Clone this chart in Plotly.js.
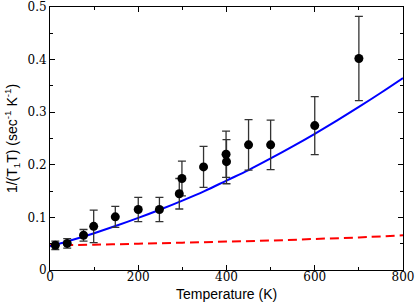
<!DOCTYPE html>
<html><head><meta charset="utf-8">
<script src="https://cdn.plot.ly/plotly-3.0.1.min.js"></script>
<style>html,body{margin:0;padding:0;background:#fff}#c{width:415px;height:303px}</style>
</head><body><div id="c"></div>
<script>
// measured data
const temps = [12, 39, 76, 99, 148, 200, 248, 293, 299, 348, 399, 400, 450, 500, 600, 700];
const rates = [0.047, 0.0505, 0.066, 0.083, 0.101, 0.115, 0.115, 0.145, 0.174, 0.196, 0.220, 0.206, 0.238, 0.238, 0.2745, 0.402];
const errs  = [0.008, 0.009, 0.011, 0.031, 0.020, 0.023, 0.023, 0.029, 0.033, 0.039, 0.044, 0.042, 0.048, 0.047, 0.055, 0.080];
// blue fit curve
const fitT = [0, 50, 100, 150, 200, 250, 300, 350, 400, 450, 500, 550, 600, 650, 700, 750, 800];
const fitV = [0.045, 0.057, 0.070, 0.084, 0.099, 0.115, 0.132, 0.150, 0.170, 0.190, 0.212, 0.235, 0.259, 0.284, 0.310, 0.337, 0.365];
// red dashed curve
const redT = [0, 100, 200, 300, 400, 500, 600, 700, 800];
const redV = [0.047, 0.048, 0.050, 0.052, 0.054, 0.056, 0.059, 0.062, 0.066];
const xTitle = 'Temperature (K)';
const yTitle = '1/(T<sub>1</sub>T) (sec<sup>-1</sup> K<sup>-1</sup>)';

const traces = [
  {x: redT, y: redV, mode: 'lines', line: {color: '#ff0000', width: 2, dash: '9px,5px', shape: 'spline'}, hoverinfo: 'skip'},
  {x: fitT, y: fitV, mode: 'lines', line: {color: '#0000ff', width: 2, shape: 'spline'}, hoverinfo: 'skip'},
  {x: temps, y: rates, mode: 'markers', marker: {color: '#000', size: 9},
   error_y: {type: 'data', array: errs, visible: true, color: '#333', thickness: 1.3, width: 4}}
];
const tickF = {family: 'DejaVu Serif', size: 12, color: '#000'};
const sans = {family: 'Liberation Sans', size: 14, color: '#000'};
const layout = {
  width: 415, height: 303,
  margin: {l: 50, r: 12, t: 7, b: 33},
  showlegend: false,
  paper_bgcolor: '#fff', plot_bgcolor: '#fff',
  xaxis: {range: [0, 800], dtick: 200, tick0: 0, ticks: 'inside', ticklen: 5, tickwidth: 1, tickcolor: '#000',
    showline: true, linecolor: '#000', linewidth: 1, mirror: 'ticks', showgrid: false, zeroline: false,
    tickfont: tickF, ticklabelstandoff: -4, ticklabeloverflow: 'allow',
    minor: {dtick: 100, ticks: 'inside', ticklen: 3, tickcolor: '#000', showgrid: false}},
  yaxis: {range: [0, 0.5], dtick: 0.1, tick0: 0, ticks: 'inside', ticklen: 5, tickwidth: 1, tickcolor: '#000',
    showline: true, linecolor: '#000', linewidth: 1, mirror: 'ticks', showgrid: false, zeroline: false,
    tickfont: tickF, ticklabeloverflow: 'allow',
    minor: {dtick: 0.05, ticks: 'inside', ticklen: 3, tickcolor: '#000', showgrid: false},
    title: {text: yTitle, font: sans, standoff: 6}},
  annotations: [{text: xTitle, xref: 'paper', yref: 'paper', x: 0.5, y: 0, xanchor: 'center', yanchor: 'top',
    yshift: -14, showarrow: false, font: sans}]
};
Plotly.newPlot('c', traces, layout, {displayModeBar: false, staticPlot: true});
</script></body></html>
